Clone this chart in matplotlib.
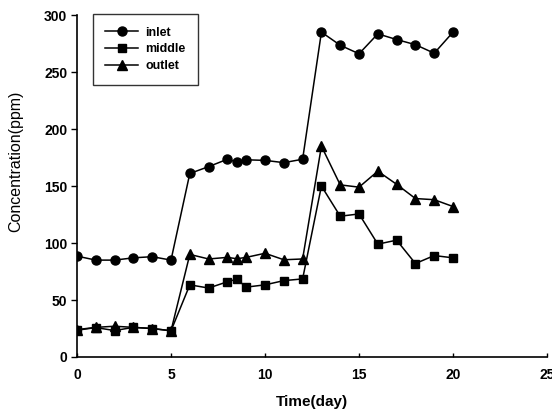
import matplotlib.pyplot as plt

plt.rcParams['font.family'] = ['Liberation Sans', 'DejaVu Sans']

# days sampled (two samples around day 8-9)
days = [0, 1, 2, 3, 4, 5, 6, 7, 8, 8.5, 9, 10, 11, 12, 13, 14, 15, 16, 17, 18, 19, 20]

inlet = [88.5, 85, 85, 87, 88, 85, 161, 167, 173.5, 171, 173, 172.5, 170.5, 173.5,
         285, 273.5, 266, 283.5, 278.5, 274, 266.5, 285]
middle = [23.5, 25.8, 23.2, 26, 25, 23, 63.3, 60.5, 66, 68.3, 61.3, 63.3, 67, 68.5,
          150, 123.5, 125.5, 99, 102.5, 82, 89, 87]
outlet = [24, 26, 27, 26, 25, 23, 90, 86, 87.4, 86.2, 87.4, 91, 85.3, 86,
          185, 151, 149, 163, 151.5, 139, 138, 132]

fig = plt.figure(figsize=(5.52, 4.12), dpi=100)
ax = fig.add_axes([0.1395, 0.1335, 0.8515, 0.83])

ax.plot(days, inlet, color='black', lw=1.1, marker='o', ms=6.5, label='inlet')
ax.plot(days, middle, color='black', lw=1.1, marker='s', ms=5.8, label='middle')
ax.plot(days, outlet, color='black', lw=1.1, marker='^', ms=6.5, label='outlet')

ax.set_xlim(0, 25)
ax.set_ylim(0, 300)
ax.set_xticks([0, 5, 10, 15, 20, 25])
ax.set_yticks([0, 50, 100, 150, 200, 250, 300])

ax.spines['top'].set_visible(False)
ax.spines['right'].set_visible(False)
ax.spines['left'].set_linewidth(1.2)
ax.spines['bottom'].set_linewidth(1.2)
ax.tick_params(axis='x', direction='in', length=3, width=1, labelsize=10, pad=8)
ax.tick_params(axis='y', direction='out', length=4, width=1, labelsize=10, pad=3)
for lbl in ax.get_xticklabels() + ax.get_yticklabels():
    lbl.set_fontweight('bold')

ax.set_xlabel('Time(day)', fontsize=11, fontweight='bold')
ax.xaxis.set_label_coords(0.5, -0.112)
ax.set_ylabel('Concentration(ppm)', fontsize=11.5)
ax.yaxis.set_label_coords(-0.115, 0.573)

leg = ax.legend(loc='upper left', bbox_to_anchor=(0.034, 1.003), borderaxespad=0,
                fontsize=9, frameon=True, fancybox=False, handlelength=2.6,
                handletextpad=0.6, labelspacing=0.38, borderpad=1.0)
leg.get_frame().set_edgecolor('black')
leg.get_frame().set_linewidth(1)
for t in leg.get_texts():
    t.set_fontweight('bold')

fig.savefig('out.png', dpi=100)
